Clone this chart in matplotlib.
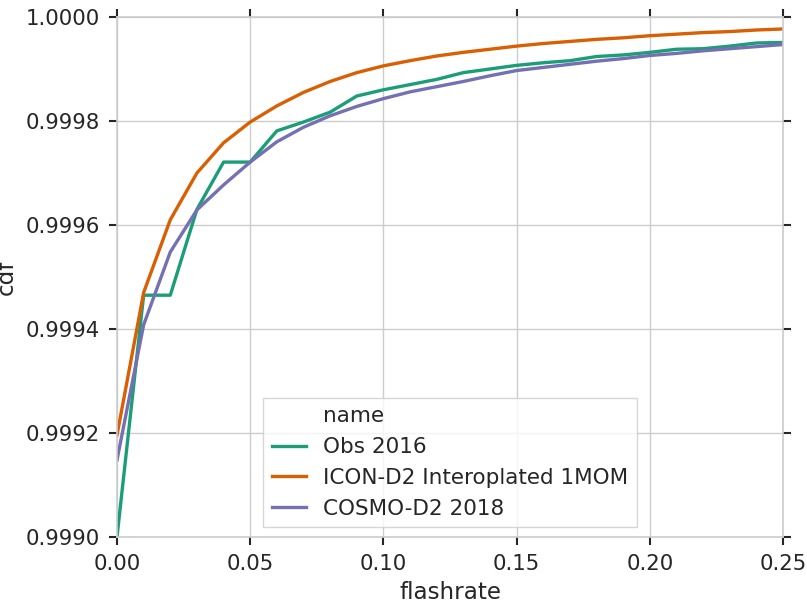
import numpy as np
import matplotlib
matplotlib.use("Agg")
import matplotlib.pyplot as plt
from matplotlib.lines import Line2D
from matplotlib.ticker import FormatStrFormatter

# flashrate bins
flashrate = [0.00, 0.01, 0.02, 0.03, 0.04, 0.05, 0.06, 0.07, 0.08, 0.09,
             0.10, 0.11, 0.12, 0.13, 0.14, 0.15, 0.16, 0.17, 0.18, 0.19,
             0.20, 0.21, 0.22, 0.23, 0.24, 0.25]

# cdf values
obs_2016 = [0.99900, 0.999465, 0.999465, 0.99963, 0.999721, 0.999721, 0.999781, 0.999798,
            0.999817, 0.999848, 0.999860, 0.999870, 0.999880, 0.999893, 0.999900, 0.999907,
            0.999912, 0.999916, 0.999924, 0.999927, 0.999932, 0.999938, 0.999939, 0.999944,
            0.999950, 0.999951]
icon_d2 = [0.999196, 0.99947, 0.99961, 0.99970, 0.999758, 0.999798, 0.999829, 0.999855,
           0.999876, 0.999893, 0.999906, 0.999916, 0.999925, 0.999932, 0.999938, 0.999944,
           0.999949, 0.999953, 0.999957, 0.999960, 0.999964, 0.999967, 0.999970, 0.999972,
           0.999975, 0.999977]
cosmo_d2 = [0.999148, 0.999408, 0.999548, 0.999629, 0.999677, 0.999721, 0.999760, 0.999788,
            0.999810, 0.999828, 0.999843, 0.999856, 0.999866, 0.999876, 0.999887, 0.999897,
            0.999903, 0.999909, 0.999915, 0.999920, 0.999926, 0.999930, 0.999935, 0.999939,
            0.999943, 0.999947]

names = ["Obs 2016", "ICON-D2 Interoplated 1MOM", "COSMO-D2 2018"]
colors = ["#1b9e77", "#d95f02", "#7570b3"]

x_ticks = [0.00, 0.05, 0.10, 0.15, 0.20, 0.25]
y_ticks = [0.9990, 0.9992, 0.9994, 0.9996, 0.9998, 1.0000]

plt.rcParams['font.family'] = ['DejaVu Sans']
grey = "#cccccc"
txt = "#262626"

fig = plt.figure(figsize=(8.07, 6.03), dpi=100)
ax = fig.add_axes([117/807, 1-537/603, 666/807, 520/603])

for y, name, c in zip([obs_2016, icon_d2, cosmo_d2], names, colors):
    ax.plot(flashrate, y, color=c, lw=2.4, label=name)

ax.set_xlim(0, 0.25)
ax.set_ylim(0.9990, 1.0000)
ax.set_xticks(x_ticks)
ax.set_yticks(y_ticks)
ax.xaxis.set_major_formatter(FormatStrFormatter('%.2f'))
ax.yaxis.set_major_formatter(FormatStrFormatter('%.4f'))

ax.grid(True, color=grey, lw=1)
ax.set_axisbelow(True)
for s in ax.spines.values():
    s.set_color(grey)
    s.set_linewidth(1.2)

ax.tick_params(which='both', direction='out', length=6, width=1.5, color=txt,
               labelcolor=txt, labelsize=15.3, top=True, right=True,
               labeltop=False, labelright=False, pad=6)

ax.set_xlabel("flashrate", fontsize=16.6, color=txt, labelpad=5)
ax.set_ylabel("cdf", fontsize=16.6, color=txt, labelpad=6)

# seaborn-like legend: hue title as first entry with empty handle
handles = [Line2D([], [], color='none')]
labels = ["name"]
for name, c in zip(names, colors):
    handles.append(Line2D([], [], color=c, lw=2.4))
    labels.append(name)
leg = ax.legend(handles, labels, loc='lower center', fontsize=15.5, frameon=True,
                fancybox=False, edgecolor=grey, handlelength=1.6,
                borderaxespad=0.45, labelcolor=txt)
leg.get_frame().set_linewidth(1.0)

fig.savefig("out.png", dpi=100)
